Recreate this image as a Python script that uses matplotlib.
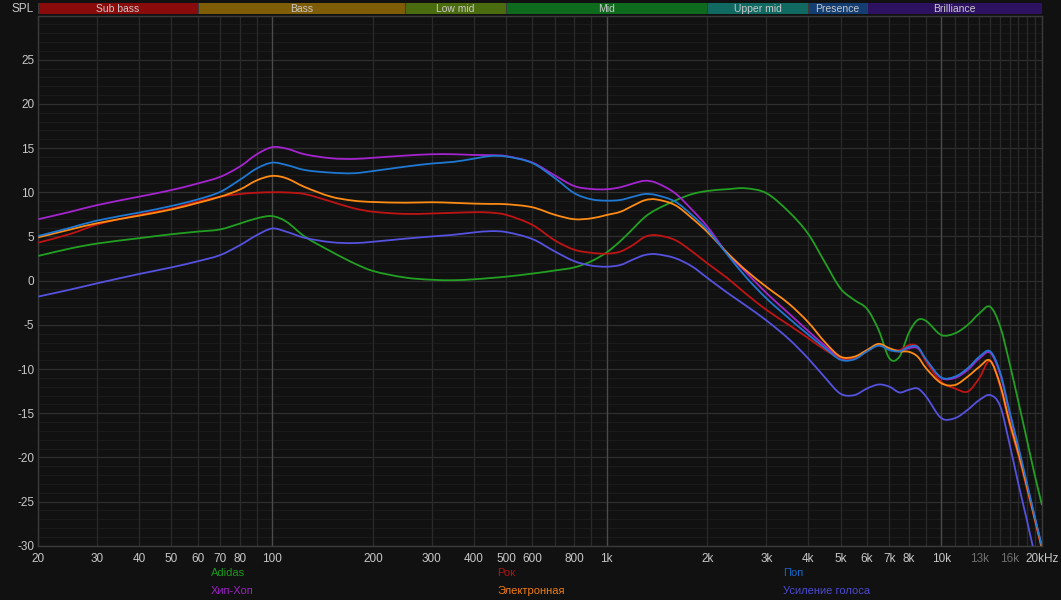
import matplotlib
matplotlib.use('Agg')
import matplotlib.pyplot as plt
import numpy as np
from matplotlib.path import Path
from matplotlib.patches import PathPatch
from matplotlib.ticker import NullFormatter

# ---------------- data ----------------
freqs = [20, 25, 30, 40, 50, 60, 70, 80, 90, 100, 110, 125, 150, 175, 200, 250, 300, 350, 400, 450,
         500, 600, 700, 800, 900, 1000, 1100, 1200, 1300, 1400, 1600, 1800, 2000, 2300, 2600, 3000,
         3500, 4000, 4500, 5000, 5500, 6000, 6500, 7000, 7500, 8000, 8500, 9000, 10000, 11000, 12000,
         13000, 14000, 15000, 16000, 17000, 18000, 19000, 20000]

adidas = [2.8, 3.65, 4.2, 4.8, 5.25, 5.55, 5.8, 6.45, 7.05, 7.3, 6.7, 5.0, 3.3, 2.0, 1.1, 0.35, 0.1, 0.05, 0.15, 0.3,
          0.45, 0.8, 1.15, 1.5, 2.2, 3.2, 4.5, 5.9, 7.2, 8.0, 9.05, 9.8, 10.15, 10.35, 10.45, 9.9,
          7.8, 5.3, 2.0, -0.9, -2.2, -3.2, -5.6, -8.8, -8.6, -5.9, -4.45, -4.55, -6.15, -5.95, -5.0,
          -3.7, -2.95, -5.2, -9.35, -13.7, -17.9, -21.9, -25.4]

hiphop = [6.95, 7.8, 8.55, 9.5, 10.25, 11.0, 11.75, 12.9, 14.3, 15.1, 14.95, 14.3, 13.85, 13.77, 13.9, 14.15, 14.3, 14.3, 14.22, 14.2,
          14.1, 13.35, 11.9, 10.7, 10.37, 10.34, 10.57, 11.0, 11.3, 11.1, 9.9, 8.0, 6.1, 3.0, 1.0, -1.4,
          -3.7, -5.7, -7.4, -8.8, -8.8, -7.9, -7.3, -7.75, -8.0, -7.65, -7.65, -8.95, -11.0, -11.0, -10.1,
          -8.8, -8.15, -10.6, -15.0, -19.0, -23.0, -26.7, -30.2]

rock = [4.3, 5.3, 6.35, 7.45, 8.15, 8.95, 9.5, 9.8, 9.95, 10.0, 9.98, 9.8, 8.95, 8.2, 7.8, 7.55, 7.6, 7.68, 7.74, 7.7,
        7.45, 6.3, 4.55, 3.5, 3.15, 3.05, 3.3, 4.05, 4.95, 5.15, 4.6, 3.3, 1.95, 0.25, -1.45, -3.3,
        -5.0, -6.5, -7.85, -8.75, -8.8, -8.0, -7.3, -7.75, -7.85, -7.3, -7.45, -9.15, -11.45, -12.2, -12.55,
        -11.0, -9.1, -12.0, -16.3, -19.8, -23.5, -27.0, -30.5]

electronic = [4.9, 5.8, 6.5, 7.35, 8.05, 8.8, 9.5, 10.3, 11.35, 11.85, 11.6, 10.6, 9.5, 9.05, 8.9, 8.82, 8.87, 8.8, 8.72, 8.68,
              8.65, 8.3, 7.45, 6.95, 7.05, 7.43, 7.8, 8.5, 9.1, 9.2, 8.55, 7.05, 5.5, 3.1, 1.2, -0.7,
              -2.6, -4.7, -7.0, -8.6, -8.6, -7.85, -7.15, -7.65, -8.0, -8.05, -8.6, -9.9, -11.6, -11.8, -10.85,
              -9.75, -9.05, -11.8, -16.0, -19.5, -23.2, -26.8, -30.3]

pop = [5.05, 6.0, 6.8, 7.7, 8.45, 9.2, 10.05, 11.4, 12.7, 13.35, 13.1, 12.52, 12.22, 12.15, 12.4, 12.9, 13.25, 13.45, 13.8, 14.1,
       14.05, 13.3, 11.6, 9.9, 9.2, 9.05, 9.13, 9.5, 9.8, 9.7, 8.95, 7.4, 5.75, 2.9, 0.45, -2.0,
       -4.25, -6.1, -7.65, -8.95, -8.9, -8.0, -7.35, -7.85, -8.0, -7.5, -7.5, -8.9, -10.95, -10.85, -9.9,
       -8.6, -8.0, -10.4, -14.8, -18.8, -22.8, -26.6, -30.1]

voice = [-1.8, -1.0, -0.3, 0.75, 1.5, 2.2, 2.9, 4.0, 5.15, 5.9, 5.55, 4.85, 4.35, 4.25, 4.4, 4.75, 5.0, 5.2, 5.45, 5.6,
         5.5, 4.7, 3.3, 2.2, 1.7, 1.58, 1.78, 2.4, 2.9, 3.0, 2.55, 1.6, 0.3, -1.4, -2.8, -4.5,
         -6.6, -8.8, -11.0, -12.8, -12.95, -12.2, -11.75, -12.0, -12.65, -12.35, -12.2, -13.1, -15.55, -15.55, -14.6,
         -13.5, -12.95, -14.2, -18.5, -23.0, -27.0, -31.0, -35.0]

series_names = ["Adidas", "Хип-Хоп", "Рок", "Электронная", "Поп", "Усиление голоса"]
series_values = [adidas, hiphop, rock, electronic, pop, voice]
line_colors = ["#22a022", "#a524d0", "#c01414", "#ff8c14", "#1f78d2", "#5552e0"]
legend_colors = ["#1c981c", "#9c20c4", "#b01212", "#ef7c12", "#1866c4", "#4c4ad4"]

band_names = ["Sub bass", "Bass", "Low mid", "Mid", "Upper mid", "Presence", "Brilliance"]
band_edges = [20, 60, 250, 500, 2000, 4000, 6000, 20000]
band_colors = ["#8a0b0b", "#7f5c06", "#4b6b0f", "#0e6a1c", "#116a62", "#143e72", "#2e1262"]

xtick_vals = [20, 30, 40, 50, 60, 70, 80, 100, 200, 300, 400, 500, 600, 800, 1000, 2000, 3000, 4000,
              5000, 6000, 7000, 8000, 10000, 13000, 16000, 20000]
xtick_labels = ["20", "30", "40", "50", "60", "70", "80", "100", "200", "300", "400", "500", "600", "800",
                "1k", "2k", "3k", "4k", "5k", "6k", "7k", "8k", "10k", "13k", "16k", "20kHz"]
dim_labels = ["13k", "16k"]
xgrid_vals = ([20, 30, 40, 50, 60, 70, 80, 90] + [200, 300, 400, 500, 600, 700, 800, 900]
              + [2000, 3000, 4000, 5000, 6000, 7000, 8000, 9000]
              + [11000, 12000, 13000, 14000, 15000, 16000, 17000, 18000, 19000, 20000])
decade_vals = [100, 1000, 10000]
ytick_vals = [-30, -25, -20, -15, -10, -5, 0, 5, 10, 15, 20, 25]


def smooth_path(xs, ys):
    """Smooth Bezier path through the given points (tangents taken in log-frequency space)."""
    u = np.log10(np.asarray(xs, float))
    y = np.asarray(ys, float)
    n = len(u)
    m = np.empty(n)
    m[1:-1] = (y[2:] - y[:-2]) / (u[2:] - u[:-2])
    m[0] = (y[1] - y[0]) / (u[1] - u[0])
    m[-1] = (y[-1] - y[-2]) / (u[-1] - u[-2])
    verts = [(xs[0], y[0])]
    codes = [Path.MOVETO]
    for i in range(n - 1):
        h = u[i + 1] - u[i]
        verts.append((10 ** (u[i] + h / 3), y[i] + m[i] * h / 3))
        verts.append((10 ** (u[i + 1] - h / 3), y[i + 1] - m[i + 1] * h / 3))
        verts.append((xs[i + 1], y[i + 1]))
        codes += [Path.CURVE4] * 3
    return Path(verts, codes)


# ---------------- figure ----------------
plt.rcParams['font.family'] = ['Liberation Sans', 'DejaVu Sans']
plt.rcParams['axes.unicode_minus'] = False
BG = "#111111"
TXT = "#c8c8c8"
W, H = 1061, 600
fig = plt.figure(figsize=(W / 100, H / 100), dpi=100, facecolor=BG)

L, R, T, B = 38.3, 1042.0, 15.5, 545.8
ax = fig.add_axes([L / W, 1 - B / H, (R - L) / W, (B - T) / H], facecolor=BG)
ax.set_xscale('log')
ax.set_xlim(20, 20000)
ax.set_ylim(-30, 30)

# grid lines
for g in xgrid_vals:
    ax.axvline(g, color='#2a2a2a', lw=0.9, zorder=1)
for d in decade_vals:
    ax.axvline(d, color='#4a4a4a', lw=1.0, zorder=1.5)
for v in range(-30, 31):
    if v % 5 == 0:
        ax.axhline(v, color='#2f2f2f', lw=0.9, zorder=0.9)
    else:
        ax.axhline(v, color='#1b1b1b', lw=0.8, zorder=0.8)

ax.set_xticks(xtick_vals)
ax.set_xticklabels(xtick_labels)
ax.xaxis.set_minor_formatter(NullFormatter())
ax.set_xticks([], minor=True)
ax.set_yticks(ytick_vals)

ax.tick_params(which='both', length=0, colors=TXT, labelsize=8.5)
ax.tick_params(axis='x', pad=5)
ax.tick_params(axis='y', pad=3)
for lbl in ax.get_xticklabels():
    if lbl.get_text() in dim_labels:
        lbl.set_color('#707070')
for s in ax.spines.values():
    s.set_color('#3a3a3a')
    s.set_linewidth(1.0)

order = [0, 2, 4, 1, 3, 5]
for i in order:
    patch = PathPatch(smooth_path(freqs, series_values[i]), fill=False,
                      edgecolor=line_colors[i], lw=1.3, zorder=3 + i, joinstyle='round')
    ax.add_patch(patch)

# band strip
bt, bb = 3.4, 14.2
bax = fig.add_axes([L / W, 1 - bb / H, (R - L) / W, (bb - bt) / H], facecolor=BG)
bax.set_xscale('log')
bax.set_xlim(20, 20000)
bax.set_ylim(0, 1)
bax.axis('off')
for name, lo, hi, c in zip(band_names, band_edges[:-1], band_edges[1:], band_colors):
    bax.axvspan(lo, hi, color=c, lw=0)
    bax.axvline(lo, color='#3a3a3a', lw=0.8)
    bax.text((lo * hi) ** 0.5, 0.45, name, ha='center', va='center', color=TXT, fontsize=7.5)

fig.text(34 / W, 1 - 8.5 / H, "SPL", ha='right', va='center', color=TXT, fontsize=8.5)

# legend (3 columns x 2 rows)
leg_x = [211, 211, 497, 497, 783, 783]
leg_y = [573, 591, 573, 591, 573, 591]
for i, name in enumerate(series_names):
    fig.text(leg_x[i] / W, 1 - leg_y[i] / H, name, ha='left', va='center',
             color=legend_colors[i], fontsize=8)

fig.savefig("out.png", dpi=100, facecolor=BG)
